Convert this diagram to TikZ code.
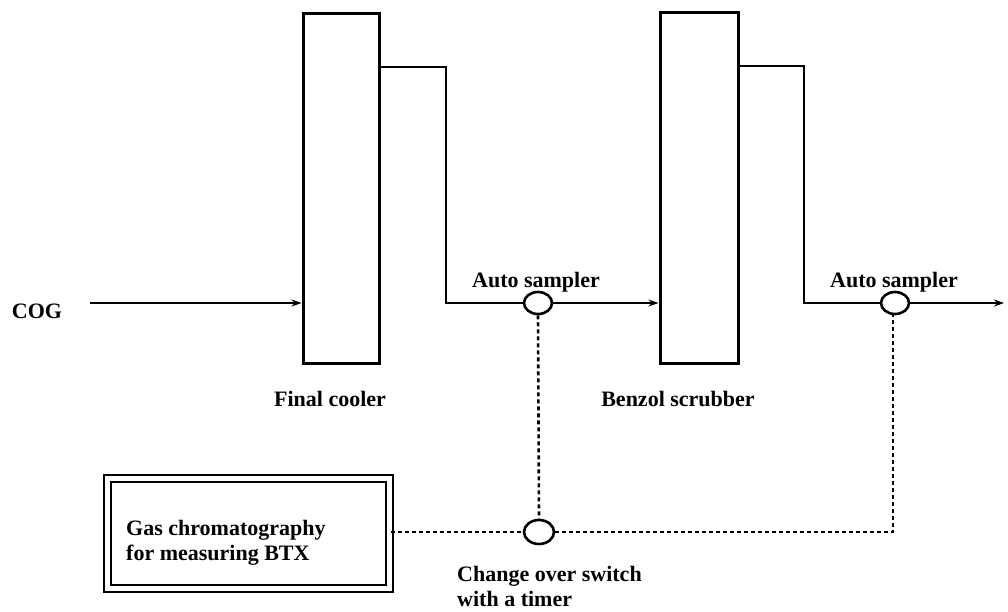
\documentclass[tikz,border=0pt]{standalone}
\usepackage{fontspec}
\setmainfont{Liberation Serif}
\usetikzlibrary{arrows.meta,shapes.geometric}
\begin{document}
\begin{tikzpicture}[x=1pt,y=-1pt,
  vessel/.style={draw,line width=3pt,rectangle,inner sep=0pt},
  sampler/.style={draw,line width=2.6pt,ellipse,inner sep=0pt,minimum width=28pt,minimum height=22pt},
  pipe/.style={line width=2.4pt},
  signal/.style={line width=2.6pt,dash pattern=on 4pt off 3pt},
  lbl/.style={font=\fontsize{22}{25}\selectfont\bfseries,inner sep=0pt},
  flowarrow/.style={-{Stealth[length=10pt,width=7pt]}}
]
\useasboundingbox (0,0) rectangle (1008,611);

% vessels
\node[vessel,minimum width=76pt,minimum height=350pt] (fc) at (341,188) {};
\node[vessel,minimum width=78pt,minimum height=351pt] (bs) at (699,187.5) {};

% samplers and switch
\node[sampler] (s1) at (538,303) {};
\node[sampler] (s2) at (895,303) {};
\node[sampler,minimum width=30pt,minimum height=24pt] (sw) at (539,532) {};

% gas chromatograph box
\node[draw,line width=2.2pt,double,double distance=5pt,rectangle,inner sep=0pt,
      minimum width=282pt,minimum height=110pt] (gc) at (248.5,533.5) {};
\node[lbl,anchor=west,align=left] (gct) at (126,543) {Gas chromatography\\for measuring BTX};

% labels
\node[lbl] (cog) at (37,311) {COG};
\node[lbl] (lab1) at (536,282) {Auto sampler};
\node[lbl] (lab2) at (894,282) {Auto sampler};
\node[lbl] (labfc) at (330,399) {Final cooler};
\node[lbl] (labbs) at (678,399) {Benzol scrubber};
\node[lbl,anchor=west,align=left] (labsw) at (457,586) {Change over switch\\with a timer};

% coordinates
\coordinate (cogstart) at (90,303);
\coordinate (p1a) at (446,67);
\coordinate (p1b) at (446,303);
\coordinate (p2a) at (804,66);
\coordinate (p2b) at (804,303);
\coordinate (outlet) at (1004,303);
\coordinate (swc) at (893,532);

% gas flow
\draw[pipe,line width=1.5pt,flowarrow] (cogstart) -- (cogstart -| fc.west);
\draw[pipe] (fc.east |- p1a) -- (p1a) -- (p1b) -- (s1.west);
\draw[pipe,flowarrow] (s1.east) -- (s1.east -| bs.west);
\draw[pipe] (bs.east |- p2a) -- (p2a) -- (p2b) -- (s2.west);
\draw[pipe,flowarrow] (s2.east) -- (outlet);

% signal lines
\draw[signal] (s1.south) -- (sw.north);
\draw[signal] (gc.east |- sw.west) -- (sw.west);
\draw[signal] (sw.east) -- (swc) -- (swc |- s2.south);
\end{tikzpicture}
\end{document}
